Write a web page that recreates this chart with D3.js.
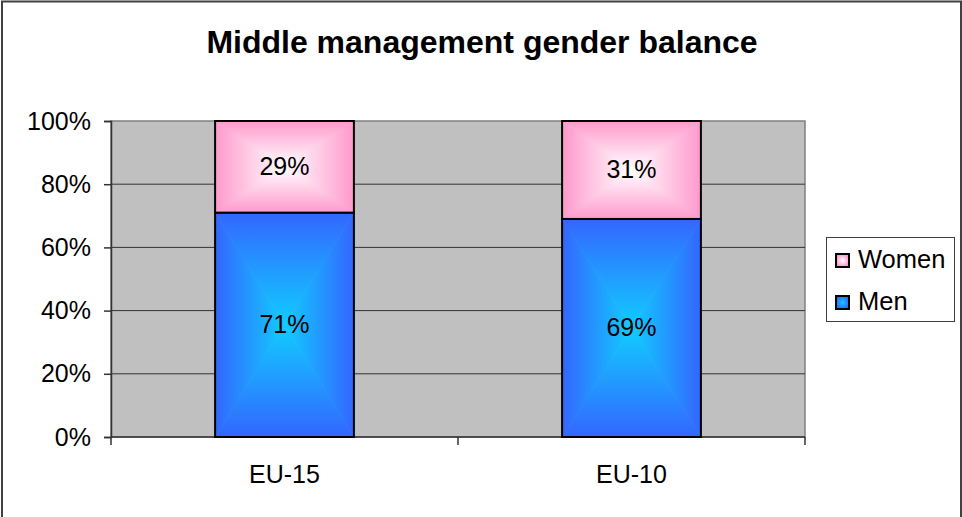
<!DOCTYPE html>
<html><head><meta charset="utf-8">
<script src="https://cdn.jsdelivr.net/npm/d3@7"></script>
<style>body{margin:0;background:#fff}svg{display:block;font-family:"Liberation Sans",Arial,sans-serif}</style>
</head><body><svg id="c" width="962" height="517"></svg>
<script>
const title = "Middle management gender balance";
const categories = ["EU-15", "EU-10"];
const men = [71, 69];
const women = [29, 31];
const seriesNames = ["Men", "Women"];
const yTicks = [0, 20, 40, 60, 80, 100];

const svg = d3.select("#c");
const W = 962, H = 517;
const plot = {l: 111, r: 805, t: 121, b: 437};
const FS = 25;

svg.append("rect").attr("x", 2).attr("y", 1.5).attr("width", W - 3).attr("height", H + 5)
  .attr("fill", "#fff").attr("stroke", "#404040").attr("stroke-width", 2);

svg.append("text").attr("x", 482).attr("y", 53).attr("text-anchor", "middle")
  .attr("font-size", 32).attr("font-weight", "bold").text(title);

const x = d3.scaleBand().domain(categories).range([plot.l, plot.r]).paddingInner(0.6).paddingOuter(0.3);
const xb = d3.scaleBand().domain(categories).range([plot.l, plot.r]);
const y = d3.scaleLinear().domain([0, 100]).range([plot.b, plot.t]);

svg.append("rect").attr("x", plot.l).attr("y", plot.t).attr("width", plot.r - plot.l).attr("height", plot.b - plot.t)
  .attr("fill", "#C0C0C0").attr("stroke", "#808080").attr("stroke-width", 1.5);

// gridlines
svg.append("g").selectAll("line").data(yTicks.filter(d => d > 0 && d < 100)).join("line")
  .attr("x1", plot.l).attr("x2", plot.r).attr("y1", d => y(d)).attr("y2", d => y(d))
  .attr("stroke", "#333").attr("stroke-width", 1);

// y axis
const yAxis = d3.axisLeft(y).tickValues(yTicks).tickFormat(d => d + "%").tickSize(7).tickPadding(13);
const ga = svg.append("g").attr("transform", `translate(${plot.l},0)`).call(yAxis);
ga.select(".domain").attr("stroke", "#333").attr("stroke-width", 1.5);
ga.selectAll(".tick line").attr("stroke", "#333").attr("stroke-width", 1.5);
ga.selectAll("text").attr("font-size", FS).attr("fill", "#000").attr("font-family", "Liberation Sans, Arial, sans-serif");

// x axis
const gx = svg.append("g").attr("transform", `translate(0,${plot.b})`);
gx.append("line").attr("x1", plot.l).attr("x2", plot.r).attr("stroke", "#333").attr("stroke-width", 1.5);
const bounds = [plot.l, ...categories.map(c => xb(c) + xb.bandwidth())];
gx.selectAll("line.t").data(bounds).join("line").attr("class", "t")
  .attr("x1", d => d).attr("x2", d => d).attr("y1", 0).attr("y2", 8).attr("stroke", "#333").attr("stroke-width", 1.5);
gx.selectAll("text").data(categories).join("text")
  .attr("x", d => xb(d) + xb.bandwidth() / 2).attr("y", 46).attr("text-anchor", "middle")
  .attr("font-size", FS).text(d => d);

// gradients and bars
const defs = svg.append("defs");
const colors = {Men: {edge: "#3366FF", center: "#11CCFF"}, Women: {edge: "#FF99CC", center: "#FFFFFF"}};
function gradRect(g, id, x0, y0, x1, y1, col) {
  const cx = (x0 + x1) / 2, cy = (y0 + y1) / 2;
  const sides = [
    {n: "t", pts: [[x0, y0], [x1, y0], [cx, cy]], g: [cx, y0, cx, cy]},
    {n: "b", pts: [[x0, y1], [x1, y1], [cx, cy]], g: [cx, y1, cx, cy]},
    {n: "l", pts: [[x0, y0], [x0, y1], [cx, cy]], g: [x0, cy, cx, cy]},
    {n: "r", pts: [[x1, y0], [x1, y1], [cx, cy]], g: [x1, cy, cx, cy]}
  ];
  sides.forEach(s => {
    const gid = id + s.n;
    const lg = defs.append("linearGradient").attr("id", gid).attr("gradientUnits", "userSpaceOnUse")
      .attr("x1", s.g[0]).attr("y1", s.g[1]).attr("x2", s.g[2]).attr("y2", s.g[3]);
    lg.append("stop").attr("offset", 0).attr("stop-color", col.edge);
    lg.append("stop").attr("offset", 1).attr("stop-color", col.center);
    g.append("path").attr("d", d3.line()(s.pts) + "Z").attr("fill", `url(#${gid})`)
      .attr("stroke", `url(#${gid})`).attr("stroke-width", 0.6);
  });
  g.append("rect").attr("x", x0).attr("y", y0).attr("width", x1 - x0).attr("height", y1 - y0)
    .attr("fill", "none").attr("stroke", "#000").attr("stroke-width", 2);
}
const bars = svg.append("g");
categories.forEach((c, i) => {
  const x0 = x(c), x1 = x(c) + x.bandwidth();
  const segs = [
    {name: "Men", v0: 0, v1: men[i], v: men[i]},
    {name: "Women", v0: men[i], v1: men[i] + women[i], v: women[i]}
  ];
  segs.forEach((s, j) => {
    const g = bars.append("g");
    gradRect(g, `g${i}${j}`, x0, y(s.v1), x1, y(s.v0), colors[s.name]);
    g.append("text").attr("x", (x0 + x1) / 2).attr("y", (y(s.v0) + y(s.v1)) / 2 + 8)
      .attr("text-anchor", "middle").attr("font-size", FS).text(s.v + "%");
  });
});

// legend
const lg = svg.append("g");
lg.append("rect").attr("x", 826.5).attr("y", 237.5).attr("width", 128).attr("height", 84)
  .attr("fill", "#fff").attr("stroke", "#404040").attr("stroke-width", 1);
const legItems = ["Women", "Men"];
legItems.forEach((n, i) => {
  const yy = 260 + i * 42;
  const gid = "leg" + i;
  const rg = defs.append("radialGradient").attr("id", gid);
  rg.append("stop").attr("offset", 0).attr("stop-color", colors[n].center);
  rg.append("stop").attr("offset", 1).attr("stop-color", colors[n].edge);
  lg.append("rect").attr("x", 836).attr("y", yy - 6).attr("width", 13).attr("height", 13)
    .attr("fill", `url(#${gid})`).attr("stroke", "#000").attr("stroke-width", 2);
  lg.append("text").attr("x", 858).attr("y", yy + 8).attr("font-size", FS + 0.5).text(n);
});
</script></body></html>
